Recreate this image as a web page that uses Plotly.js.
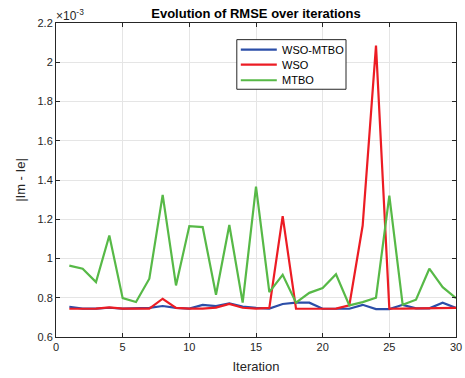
<!DOCTYPE html>
<html>
<head>
<meta charset="utf-8">
<script src="https://cdn.plot.ly/plotly-3.0.1.min.js"></script>
<style>html,body{margin:0;padding:0;background:#fff}#chart{width:465px;height:378px}</style>
</head>
<body>
<div id="chart"></div>
<script>
// Iteration index
const iterations = [1,2,3,4,5,6,7,8,9,10,11,12,13,14,15,16,17,18,19,20,21,22,23,24,25,26,27,28,29,30];
// RMSE values, in units of 1e-3
const wsoMtbo = [0.754,0.745,0.745,0.749,0.745,0.745,0.748,0.758,0.748,0.745,0.764,0.757,0.771,0.755,0.748,
                 0.745,0.768,0.775,0.775,0.744,0.745,0.744,0.764,0.742,0.742,0.764,0.746,0.746,0.775,0.748];
const wso     = [0.744,0.744,0.745,0.751,0.745,0.745,0.745,0.795,0.748,0.745,0.745,0.750,0.769,0.749,0.745,
                 0.748,1.216,0.744,0.744,0.744,0.745,0.761,1.168,2.085,0.744,0.745,0.745,0.745,0.748,0.748];
const mtbo    = [0.964,0.948,0.880,1.117,0.798,0.778,0.897,1.324,0.863,1.165,1.160,0.815,1.171,0.775,1.366,
                 0.829,0.917,0.775,0.825,0.849,0.920,0.761,0.778,0.800,1.320,0.764,0.790,0.948,0.854,0.798];
const seriesNames = ['WSO-MTBO','WSO','MTBO'];
const yTicks = [0.6,0.8,1,1.2,1.4,1.6,1.8,2,2.2];
const xTicks = [0,5,10,15,20,25,30];

const colors = ['#2b4ea8','#ec1c24','#57b947'];
const FONT = 'Liberation Sans, Arial, sans-serif';
const data = [wsoMtbo, wso, mtbo].map((ys, i) => ({
  x: iterations, y: ys, type: 'scatter', mode: 'lines', name: seriesNames[i],
  line: {color: colors[i], width: 2.2}, showlegend: false
}));

const axisCommon = {
  showgrid: true, gridcolor: '#e5e5e5', gridwidth: 1,
  showline: true, linecolor: '#262626', linewidth: 1, mirror: 'ticks',
  ticks: 'inside', ticklen: 4, tickcolor: '#262626', tickwidth: 1,
  zeroline: false,
  tickfont: {family: FONT, size: 11, color: '#262626'}
};

// Legend box (paper coordinates), MATLAB style
const lg = {x0: 0.452, x1: 0.725, y0: 0.789, y1: 0.947, lx0: 0.462, lx1: 0.552, tx: 0.56,
            rows: [0.9154, 0.8677, 0.8177]};
const shapes = [{type: 'rect', xref: 'paper', yref: 'paper', x0: lg.x0, x1: lg.x1, y0: lg.y0, y1: lg.y1,
                 fillcolor: '#fff', line: {color: '#262626', width: 1}, layer: 'above'}];
const annotations = [{
  text: '×10<sup>-3</sup>', xref: 'paper', yref: 'paper', x: 0, y: 1,
  xanchor: 'left', yanchor: 'bottom', showarrow: false,
  font: {family: FONT, size: 12, color: '#262626'}, yshift: -2, xshift: -2
}];
seriesNames.forEach((n, i) => {
  shapes.push({type: 'line', xref: 'paper', yref: 'paper', x0: lg.lx0, x1: lg.lx1, y0: lg.rows[i], y1: lg.rows[i],
               line: {color: colors[i], width: 2.2}, layer: 'above'});
  annotations.push({text: n, xref: 'paper', yref: 'paper', x: lg.tx, y: lg.rows[i], xanchor: 'left', yanchor: 'middle',
                    showarrow: false, font: {family: FONT, size: 11, color: '#000'}});
});

const layout = {
  width: 465, height: 378,
  margin: {l: 56, r: 9, t: 23, b: 41},
  paper_bgcolor: '#fff', plot_bgcolor: '#fff',
  font: {family: FONT, color: '#262626'},
  title: {text: '<b>Evolution of RMSE over iterations</b>', font: {family: FONT, size: 13, color: '#000'},
          x: 0.5, xref: 'paper', y: 1, yref: 'paper', yanchor: 'bottom', pad: {b: 5}},
  xaxis: Object.assign({}, axisCommon, {
    range: [0, 30], tickvals: xTicks, ticktext: xTicks.map(String),
    title: {text: 'Iteration', font: {family: FONT, size: 13, color: '#262626'}, standoff: 9}
  }),
  yaxis: Object.assign({}, axisCommon, {
    range: [0.6, 2.2], tickvals: yTicks, ticktext: yTicks.map(String),
    title: {text: '|Im - Ie|', font: {family: FONT, size: 13, color: '#262626'}, standoff: 8}
  }),
  showlegend: false,
  shapes: shapes,
  annotations: annotations
};

Plotly.newPlot('chart', data, layout, {staticPlot: true, displayModeBar: false});
</script>
</body>
</html>
